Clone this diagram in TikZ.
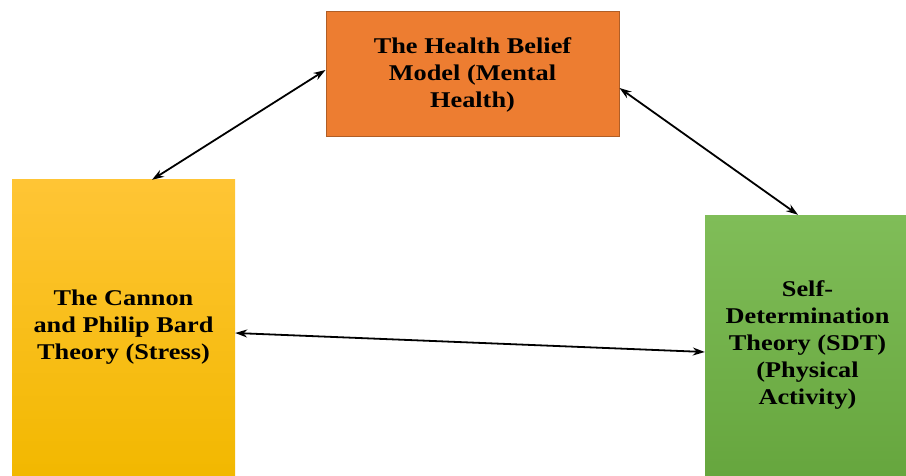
\documentclass[tikz,border=0pt]{standalone}
\usepackage{fontspec}
\newfontfamily\boxfont[FakeStretch=1.17]{Liberation Serif}
\usetikzlibrary{arrows.meta, positioning}

\definecolor{hbmorange}{HTML}{ED7D31}
\definecolor{hbmborder}{HTML}{B05E26}
\definecolor{cbtop}{HTML}{FFC535}
\definecolor{cbbottom}{HTML}{F2B800}
\definecolor{sdttop}{HTML}{80BD58}
\definecolor{sdtbottom}{HTML}{66A63E}

\tikzset{
  theory/.style={rectangle, inner sep=0pt, align=center,
    font=\boxfont\bfseries\fontsize{22.5pt}{27pt}\selectfont},
  link/.style={{Stealth[length=12pt,width=8pt]}-{Stealth[length=12pt,width=8pt]}, line width=1.8pt, black}
}

\begin{document}
\begin{tikzpicture}[x=1pt, y=1pt]
  \useasboundingbox (0,0) rectangle (906,475);

  %Define nodes
  \node[theory, fill=hbmorange, draw=hbmborder, line width=1pt,
        minimum width=293pt, minimum height=125pt] (hbm) at (472.5,400.5)
        {The Health Belief\\Model (Mental\\Health)};
  \node[theory, top color=cbtop, bottom color=cbbottom,
        minimum width=223pt, minimum height=295pt] (cannon) at (123.5,147.5)
        {The Cannon\\and Philip Bard\\Theory (Stress)};
  \node[theory, top color=sdttop, bottom color=sdtbottom,
        minimum width=205pt, minimum height=260pt] (sdt) at (807.5,130)
        {Self-\\Determination\\Theory (SDT)\\(Physical\\Activity)};

  % Connect the nodes
  \draw[link] ([xshift=28.5pt]cannon.north) -- ([yshift=4.5pt]hbm.west);
  \draw[link] ([yshift=-13.5pt]hbm.east) -- ([xshift=-9.5pt]sdt.north);
  \draw[link] ([yshift=-5.5pt]cannon.east) -- ([yshift=-7pt]sdt.west);

\end{tikzpicture}
\end{document}
